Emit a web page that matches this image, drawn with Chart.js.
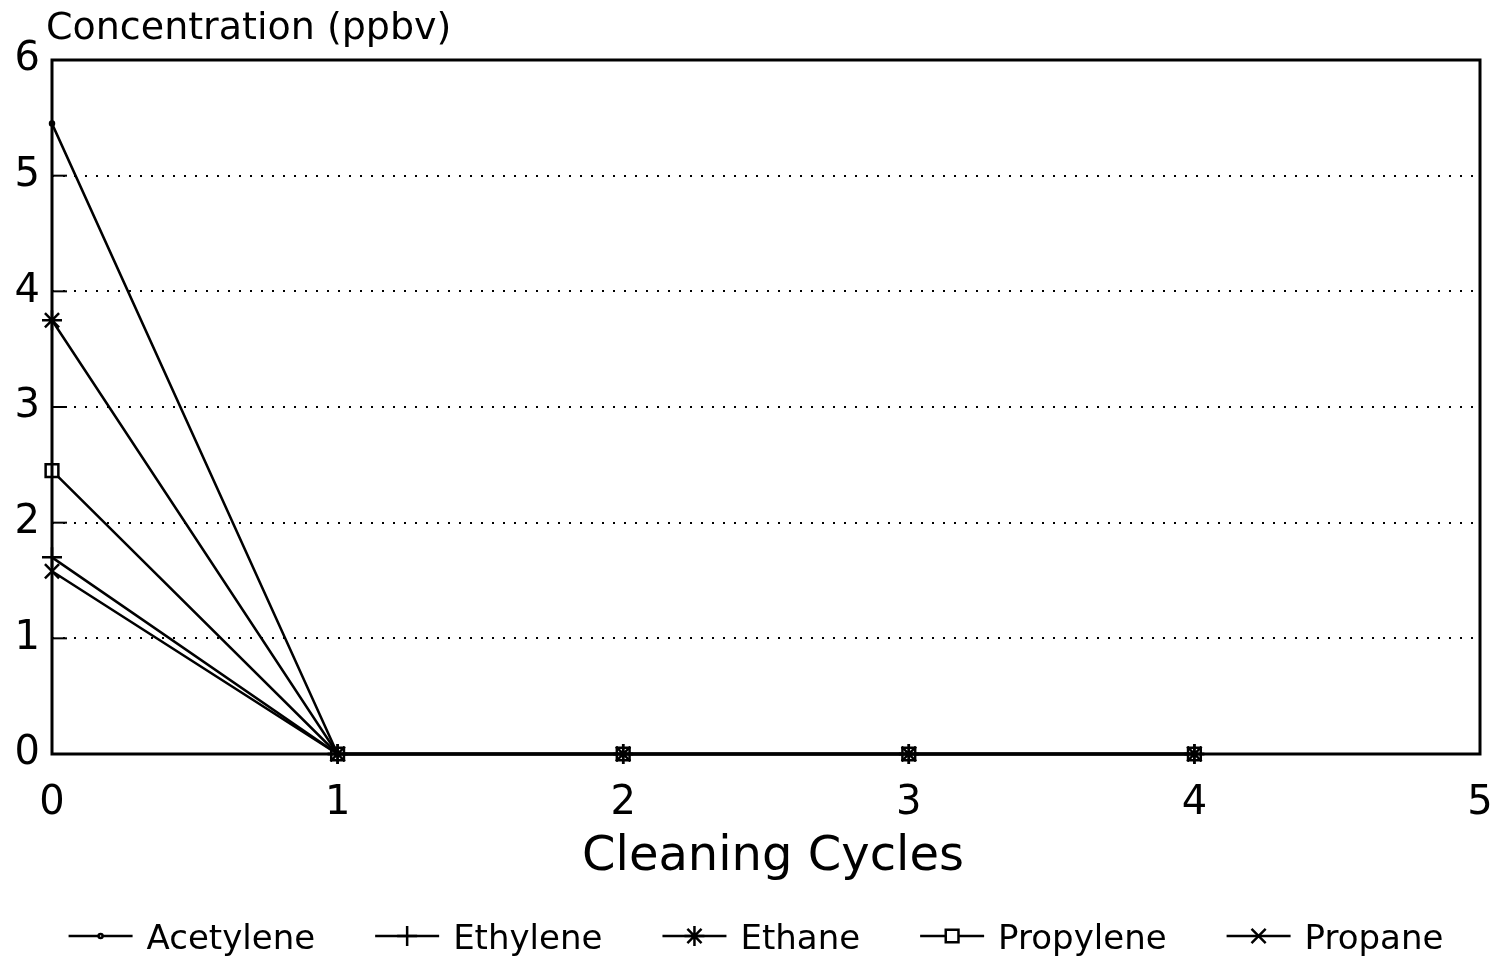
<!DOCTYPE html>
<html>
<head>
<meta charset="utf-8">
<script src="https://cdn.jsdelivr.net/npm/chart.js@4/dist/chart.umd.min.js"></script>
<style>
    html, body { margin: 0; padding: 0; background: #fff; }
    #wrap { width: 1503px; height: 958px; }
</style>
</head>
<body>
<div id="wrap"><canvas id="chart"></canvas></div>
<script>
const cycles = [0, 1, 2, 3, 4];
const seriesNames = ['Acetylene', 'Ethylene', 'Ethane', 'Propylene', 'Propane'];
const acetylene = [5.45, 0, 0, 0, 0];
const ethylene = [1.7, 0, 0, 0, 0];
const ethane = [3.75, 0, 0, 0, 0];
const propylene = [2.45, 0, 0, 0, 0];
const propane = [1.58, 0, 0, 0, 0];
const yTicks = [0, 1, 2, 3, 4, 5, 6];
const xTicks = [0, 1, 2, 3, 4, 5];

const FONT = '"DejaVu Sans", sans-serif';

const markers = [
    { style: 'circle', radius: 2 },
    { style: 'cross', radius: 10 },
    { style: 'star', radius: 10 },
    { style: 'rect', radius: 9 },
    { style: 'crossRot', radius: 10 }
];

function makeSet(i, values) {
    return {
        label: seriesNames[i],
        data: cycles.map((c, k) => ({ x: c, y: values[k] })),
        borderColor: '#000',
        backgroundColor: '#fff',
        borderWidth: 2.5,
        pointStyle: markers[i].style,
        pointRadius: markers[i].radius,
        pointBorderWidth: 2.5,
        pointBorderColor: '#000',
        pointBackgroundColor: '#fff',
        tension: 0,
        clip: false
    };
}

const extras = {
    id: 'extras',
    afterDraw(chart) {
        const ctx = chart.ctx;
        const a = chart.chartArea;
        const ys = chart.scales.y;
        ctx.save();
        ctx.strokeStyle = '#000';
        ctx.lineWidth = 3;
        ctx.strokeRect(a.left, a.top, a.right - a.left, a.bottom - a.top);

        // short inward ticks on the y axis
        ctx.lineWidth = 2;
        yTicks.forEach(v => {
            const py = ys.getPixelForValue(v);
            ctx.beginPath();
            ctx.moveTo(a.left, py);
            ctx.lineTo(a.left + 15, py);
            ctx.stroke();
        });

        ctx.fillStyle = '#000';
        ctx.font = '38px ' + FONT;
        ctx.textAlign = 'left';
        ctx.textBaseline = 'middle';
        ctx.fillText('Concentration (ppbv)', 46, 29);

        ctx.font = '48px ' + FONT;
        ctx.textAlign = 'center';
        ctx.fillText('Cleaning Cycles', 773, 858);

        // legend
        ctx.font = '34px ' + FONT;
        ctx.textAlign = 'left';
        const lineLen = 64, gapText = 14, gapItem = 60;
        let total = 0;
        const widths = seriesNames.map(n => ctx.measureText(n).width);
        widths.forEach(w => { total += lineLen + gapText + w; });
        total += gapItem * (seriesNames.length - 1);
        let x = 756 - total / 2;
        const ly = 940;
        chart.data.datasets.forEach((ds, i) => {
            ctx.lineWidth = 2.5;
            ctx.strokeStyle = '#000';
            ctx.beginPath();
            ctx.moveTo(x, ly - 4);
            ctx.lineTo(x + lineLen, ly - 4);
            ctx.stroke();
            ctx.fillStyle = '#fff';
            Chart.helpers.drawPoint(ctx, {
                pointStyle: ds.pointStyle,
                radius: ds.pointRadius,
                borderWidth: 2.5,
                rotation: 0
            }, x + lineLen / 2, ly - 4);
            ctx.fillStyle = '#000';
            ctx.fillText(ds.label, x + lineLen + gapText, ly);
            x += lineLen + gapText + widths[i] + gapItem;
        });
        ctx.restore();
    }
};

new Chart(document.getElementById('chart'), {
    type: 'line',
    data: {
        datasets: [
            makeSet(0, acetylene),
            makeSet(1, ethylene),
            makeSet(2, ethane),
            makeSet(3, propylene),
            makeSet(4, propane)
        ]
    },
    options: {
        responsive: true,
        maintainAspectRatio: false,
        animation: false,
        layout: { padding: { top: 60, right: 23, left: 0, bottom: 0 } },
        plugins: {
            legend: { display: false },
            tooltip: { enabled: false }
        },
        scales: {
            x: {
                type: 'linear',
                min: 0,
                max: 5,
                afterFit(scale) {
                    scale.height = 204;
                    scale.paddingRight = 0;
                    scale.paddingLeft = 0;
                },
                afterBuildTicks(scale) { scale.ticks = xTicks.map(v => ({ value: v })); },
                grid: { display: false, drawTicks: false },
                border: { display: false },
                ticks: {
                    color: '#000',
                    padding: 26,
                    maxRotation: 0,
                    font: { family: FONT, size: 40 }
                }
            },
            y: {
                type: 'linear',
                min: 0,
                max: 6,
                afterFit(scale) { scale.width = 52; },
                afterBuildTicks(scale) { scale.ticks = yTicks.map(v => ({ value: v })); },
                grid: { color: '#000', lineWidth: 2, drawTicks: false },
                border: { display: false, dash: [2, 9] },
                ticks: {
                    color: '#000',
                    padding: 12,
                    font: { family: FONT, size: 40 }
                }
            }
        }
    },
    plugins: [extras]
});
</script>
</body>
</html>
